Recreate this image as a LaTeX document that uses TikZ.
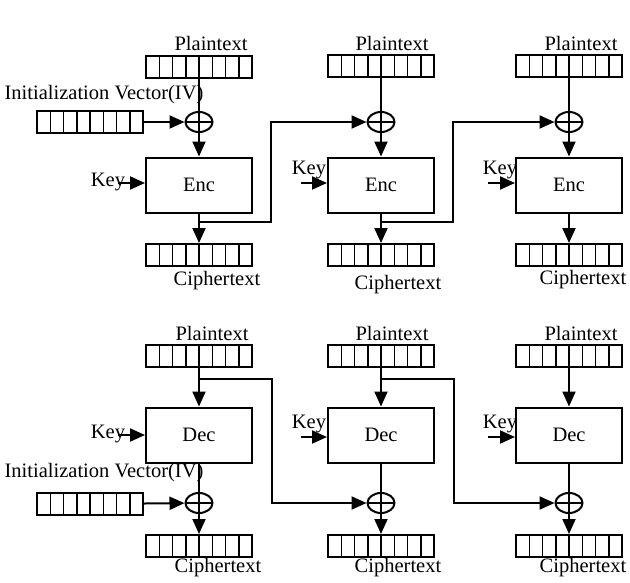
\documentclass[tikz,border=0pt]{standalone}
\usepackage{fontspec}
\setmainfont{Liberation Serif}
\usetikzlibrary{arrows.meta,shapes.geometric}
\begin{document}
\begin{tikzpicture}[x=1pt,y=-1pt,
  every node/.style={font=\fontsize{20.5}{21}\selectfont, inner sep=0pt},
  reg/.style={draw, line width=2pt, minimum width=106pt, minimum height=22pt, inner sep=0pt,
    path picture={\foreach \i in {1,...,7}
      \draw[line width=1.5pt] ([xshift=\i*13.25pt]path picture bounding box.north west) -- ([xshift=\i*13.25pt]path picture bounding box.south west);}},
  xorn/.style={draw, ellipse, line width=2pt, minimum width=27pt, minimum height=20pt, inner sep=0pt,
    path picture={\draw[line width=1.7pt] (path picture bounding box.north) -- (path picture bounding box.south)
      (path picture bounding box.west) -- (path picture bounding box.east);}},
  cbox/.style={draw, line width=2pt, minimum width=106pt, minimum height=55pt, inner sep=0pt},
  ln/.style={line width=2pt},
  arr/.style={ln, -{Triangle[length=15pt,width=13pt]}}
]
\useasboundingbox (0,0) rectangle (630,582);

% ---------------- top row (encryption) ----------------
\node[reg] (pt1) at (199,67) {};
\node[reg] (pt2) at (381,66) {};
\node[reg] (pt3) at (569,66) {};
\node (lpt1) at (211,43) {Plaintext};
\node (lpt2) at (392,43) {Plaintext};
\node (lpt3) at (581,43) {Plaintext};

\node (livt) at (104,95) {Initialization Vector(IV)};
\node[reg] (ivt) at (90,122) {};

\node[xorn] (xt1) at (199,122) {};
\node[xorn] (xt2) at (381,122) {};
\node[xorn] (xt3) at (569,122) {};

\node[cbox] (e1) at (199,185) {Enc};
\node[cbox] (e2) at (381,185) {Enc};
\node[cbox] (e3) at (569,185) {Enc};

\node[reg] (ct1) at (199,255) {};
\node[reg] (ct2) at (381,255) {};
\node[reg] (ct3) at (569,255) {};
\node (lct1) at (217,281) {Ciphertext};
\node (lct2) at (398,285) {Ciphertext};
\node (lct3) at (583,280) {Ciphertext};

\node (kt1) at (108,182) {Key};
\node (kt2) at (309,170) {Key};
\node (kt3) at (500,170) {Key};
\coordinate (kst1) at (118,183);
\coordinate (kst2) at (301,183);
\coordinate (kst3) at (488,183);

\draw[ln] (pt1) -- (xt1);
\draw[ln] (pt2) -- (xt2);
\draw[ln] (pt3) -- (xt3);
\draw[arr] (ivt) -- (xt1);
\draw[arr] (xt1) -- (e1);
\draw[arr] (xt2) -- (e2);
\draw[arr] (xt3) -- (e3);
\draw[arr] (e1) -- (ct1);
\draw[arr] (e2) -- (ct2);
\draw[arr] (e3) -- (ct3);
\draw[arr] (kst1) -- (kst1 -| e1.west);
\draw[arr] (kst2) -- (kst2 -| e2.west);
\draw[arr] (kst3) -- (kst3 -| e3.west);

\coordinate (ft1) at (199,222);
\coordinate (rt1) at (271,222);
\coordinate (ft2) at (381,222);
\coordinate (rt2) at (453,222);
\draw[arr] (ft1) -- (rt1) |- (xt2);
\draw[arr] (ft2) -- (rt2) |- (xt3);

% ---------------- bottom row (decryption) ----------------
\node[reg] (pb1) at (199,356) {};
\node[reg] (pb2) at (381,356) {};
\node[reg] (pb3) at (569,356) {};
\node (lpb1) at (212,333) {Plaintext};
\node (lpb2) at (392,333) {Plaintext};
\node (lpb3) at (581,333) {Plaintext};

\node[cbox] (d1) at (199,435) {Dec};
\node[cbox] (d2) at (381,435) {Dec};
\node[cbox] (d3) at (569,435) {Dec};

\node (livb) at (104,473) {Initialization Vector(IV)};
\node[reg] (ivb) at (90,504) {};

\node[xorn] (xb1) at (199,503) {};
\node[xorn] (xb2) at (381,503) {};
\node[xorn] (xb3) at (569,503) {};

\node[reg] (cb1) at (199,546) {};
\node[reg] (cb2) at (381,546) {};
\node[reg] (cb3) at (569,546) {};
\node (lcb1) at (218,568) {Ciphertext};
\node (lcb2) at (398,568) {Ciphertext};
\node (lcb3) at (583,568) {Ciphertext};

\node (kb1) at (108,434) {Key};
\node (kb2) at (309,424) {Key};
\node (kb3) at (500,424) {Key};
\coordinate (ksb1) at (118,435);
\coordinate (ksb2) at (301,437);
\coordinate (ksb3) at (488,437);

\draw[arr] (pb1) -- (d1);
\draw[arr] (pb2) -- (d2);
\draw[arr] (pb3) -- (d3);
\draw[ln] (d1) -- (xb1);
\draw[ln] (d2) -- (xb2);
\draw[ln] (d3) -- (xb3);
\draw[arr] (ivb) -- (xb1);
\draw[arr] (xb1) -- (cb1);
\draw[arr] (xb2) -- (cb2);
\draw[arr] (xb3) -- (cb3);
\draw[arr] (ksb1) -- (ksb1 -| d1.west);
\draw[arr] (ksb2) -- (ksb2 -| d2.west);
\draw[arr] (ksb3) -- (ksb3 -| d3.west);

\coordinate (fb1) at (199,379);
\coordinate (rb1) at (272,379);
\coordinate (fb2) at (381,379);
\coordinate (rb2) at (454,379);
\draw[arr] (fb1) -- (rb1) |- (xb2);
\draw[arr] (fb2) -- (rb2) |- (xb3);
\end{tikzpicture}
\end{document}
